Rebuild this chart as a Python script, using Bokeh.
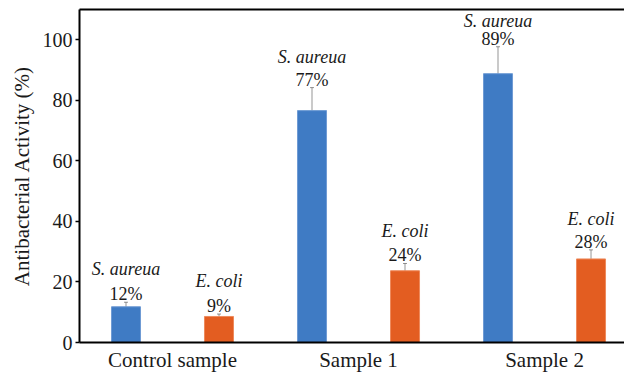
from bokeh.plotting import figure
from bokeh.models import (LinearAxis, FixedTicker, ColumnDataSource, Whisker,
                          Range1d, TeeHead)
from bokeh.core.properties import value
from bokeh.embed import file_html
from bokeh.resources import INLINE

# ---- data ----
samples = ["Control sample", "Sample 1", "Sample 2"]
species = ["S. aureua", "E. coli"]
s_aureus = [11.8, 76.6, 88.8]
s_aureus_err = [1.5, 7.6, 8.9]
e_coli = [8.6, 23.7, 27.6]
e_coli_err = [0.8, 2.4, 3.0]
s_aureus_labels = ["12%", "77%", "89%"]
e_coli_labels = ["9%", "24%", "28%"]
y_ticks = [0, 20, 40, 60, 80, 100]

# ---- layout / style constants ----
BLUE = "#3F7BC4"
ORANGE = "#E35D21"
FONT = "'Liberation Serif'"
OFFSET = 0.25
BAR_W = 0.156
species_gap_blue = [-33, -31, -26]
species_gap_orange = [-33, -32, -31]

p = figure(width=624, height=374, x_range=Range1d(-0.5, 2.43),
           y_range=Range1d(0, 110), output_backend="svg",
           toolbar_location=None, min_border_left=79, min_border_right=0,
           min_border_top=9, min_border_bottom=31)
p.xgrid.visible = False
p.ygrid.visible = False
p.outline_line_color = None
p.background_fill_color = "white"
p.border_fill_color = "white"

series = [
    (s_aureus, s_aureus_err, s_aureus_labels, species[0], -OFFSET, BLUE, "#6F9BD4", species_gap_blue),
    (e_coli, e_coli_err, e_coli_labels, species[1], OFFSET, ORANGE, "#EE8A5C", species_gap_orange),
]

for vals, errs, labs, name, off, col, edge, gaps in series:
    xs = [i + off for i in range(len(samples))]
    src = ColumnDataSource(dict(
        x=xs, top=vals,
        upper=[v + e for v, e in zip(vals, errs)],
        lower=[v - e for v, e in zip(vals, errs)],
        lab=labs, name=[name] * len(vals), gap=gaps,
    ))
    p.vbar(x="x", top="top", width=BAR_W, source=src, fill_color=col,
           line_color=edge, line_width=1)
    w = Whisker(base="x", upper="upper", lower="lower", source=src,
                line_color="#404040", line_alpha=0.55, line_width=1,
                upper_head=TeeHead(size=4, line_color="#404040", line_alpha=0.55),
                lower_head=TeeHead(size=4, line_color="#404040", line_alpha=0.55))
    p.add_layout(w)
    p.text(x="x", y="upper", text="lab", source=src, text_align="center",
           text_baseline="middle", y_offset=-8,
           text_font=value(FONT), text_font_size="18px", text_color="#1a1a1a")
    p.text(x="x", y="upper", text="name", source=src, text_align="center",
           text_baseline="middle", y_offset="gap",
           text_font=value(FONT), text_font_size="18px",
           text_font_style="italic", text_color="#1a1a1a")

# y axis
ya = p.yaxis[0]
ya.ticker = FixedTicker(ticks=y_ticks)
ya.axis_line_width = 2
ya.axis_line_color = "black"
ya.major_tick_out = 4
ya.major_tick_in = 0
ya.major_tick_line_width = 1.5
ya.minor_tick_out = 0
ya.minor_tick_in = 0
ya.major_label_text_font = FONT
ya.major_label_text_font_size = "20px"
ya.major_label_text_color = "#1a1a1a"
ya.major_label_standoff = 3
ya.axis_label = "Antibacterial Activity (%)"
ya.axis_label_text_font = FONT
ya.axis_label_text_font_size = "21px"
ya.axis_label_text_font_style = "normal"
ya.axis_label_text_color = "#1a1a1a"
ya.axis_label_standoff = 6

# x axis
xa = p.xaxis[0]
xa.ticker = FixedTicker(ticks=list(range(len(samples))))
xa.major_label_overrides = {i: s for i, s in enumerate(samples)}
xa.axis_line_width = 2
xa.axis_line_color = "black"
xa.major_tick_out = 0
xa.major_tick_in = 0
xa.minor_tick_out = 0
xa.minor_tick_in = 0
xa.major_label_text_font = FONT
xa.major_label_text_font_size = "21px"
xa.major_label_text_color = "#1a1a1a"
xa.major_label_standoff = 5

# top border line
top = LinearAxis(ticker=FixedTicker(ticks=[]), axis_line_width=2,
                 axis_line_color="black", major_tick_out=0, major_tick_in=0,
                 minor_tick_out=0, minor_tick_in=0,
                 major_label_text_font_size="0px", major_label_standoff=0)
p.add_layout(top, "above")

open("out.html", "w").write(file_html(p, INLINE))
